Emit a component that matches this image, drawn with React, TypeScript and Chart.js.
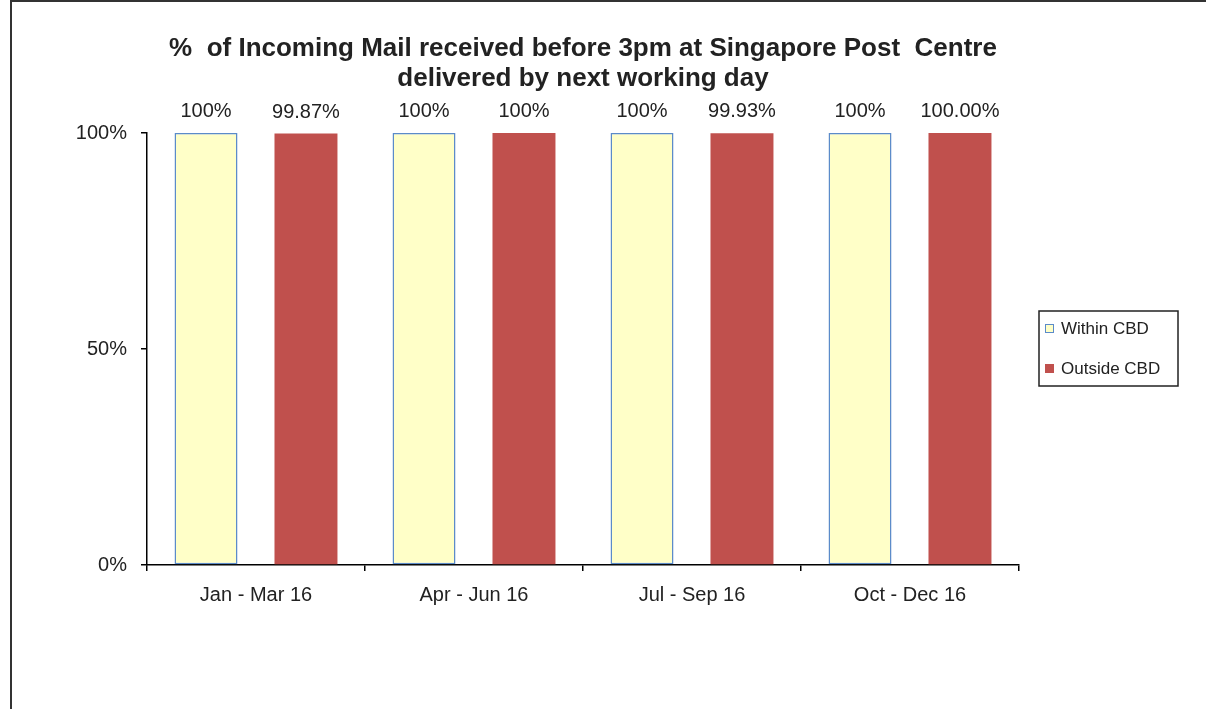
import React, { useEffect, useRef } from "react";
import { Chart, registerables } from "chart.js";

Chart.register(...registerables);

const titleLines = [
  "%  of Incoming Mail received before 3pm at Singapore Post  Centre",
  "delivered by next working day",
];
const categories = ["Jan - Mar 16", "Apr - Jun 16", "Jul - Sep 16", "Oct - Dec 16"];
const seriesNames = ["Within CBD", "Outside CBD"];
const withinValues = [100, 100, 100, 100];
const outsideValues = [99.87, 100, 99.93, 100];
const withinLabels = ["100%", "100%", "100%", "100%"];
const outsideLabels = ["99.87%", "100%", "99.93%", "100.00%"];
const yTicks = [0, 50, 100];

const FONT = "'Liberation Sans', Arial, sans-serif";
const TEXT = "#222";
const dataLabels = [withinLabels, outsideLabels];

const decorPlugin = {
  id: "decor",
  afterDraw(chart: any) {
    const ctx = chart.ctx;
    const area = chart.chartArea;
    ctx.save();
    // title
    ctx.fillStyle = TEXT;
    ctx.font = `bold 26px ${FONT}`;
    ctx.textAlign = "center";
    ctx.textBaseline = "alphabetic";
    const cx = (area.left + area.right) / 2;
    titleLines.forEach((line, i) => ctx.fillText(line, cx, 56 + i * 30));

    // value labels
    ctx.font = `20px ${FONT}`;
    chart.data.datasets.forEach((ds: any, i: number) => {
      const meta = chart.getDatasetMeta(i);
      meta.data.forEach((bar: any, j: number) => {
        ctx.fillText(dataLabels[i][j], bar.x, bar.y - 16);
      });
    });

    // legend
    const lx = area.right + 20;
    const ly = (area.top + area.bottom) / 2 - 38;
    const lw = 139;
    const lh = 75;
    ctx.strokeStyle = "#222";
    ctx.lineWidth = 1.5;
    ctx.strokeRect(lx, ly, lw, lh);
    ctx.font = `17px ${FONT}`;
    ctx.textAlign = "left";
    ctx.textBaseline = "middle";
    chart.data.datasets.forEach((ds: any, i: number) => {
      const y = ly + 18 + i * 40;
      ctx.fillStyle = ds.backgroundColor;
      ctx.fillRect(lx + 6, y - 5, 9, 9);
      if (ds.borderWidth) {
        ctx.strokeStyle = ds.borderColor;
        ctx.lineWidth = 1;
        ctx.strokeRect(lx + 6.5, y - 4.5, 8, 8);
      }
      ctx.fillStyle = TEXT;
      ctx.fillText(ds.label, lx + 22, y);
    });
    ctx.restore();
  },
};

export default function App() {
  const ref = useRef<HTMLCanvasElement>(null);

  useEffect(() => {
    if (!ref.current) return;
    const chart = new Chart(ref.current, {
      type: "bar",
      data: {
        labels: categories,
        datasets: [
          {
            label: seriesNames[0],
            data: withinValues,
            backgroundColor: "#FFFFC8",
            borderColor: "#5B8BC9",
            borderWidth: 1.5,
            borderSkipped: false,
          },
          {
            label: seriesNames[1],
            data: outsideValues,
            backgroundColor: "#C0504D",
            borderWidth: 0,
          },
        ],
      },
      options: {
        responsive: false,
        animation: false,
        categoryPercentage: 0.917,
        barPercentage: 0.63,
        layout: { padding: { left: 20, right: 187, top: 133, bottom: 0 } },
        plugins: {
          legend: { display: false },
          title: { display: false },
          tooltip: { enabled: false },
        },
        scales: {
          x: {
            afterFit: (s: any) => {
              s.height = 144;
            },
            grid: {
              drawOnChartArea: false,
              drawTicks: true,
              tickLength: 6,
              color: "#000",
              lineWidth: 1.5,
            },
            border: { display: true, color: "#000", width: 1.5 },
            ticks: {
              color: TEXT,
              font: { family: FONT, size: 20 },
              padding: 12,
              maxRotation: 0,
            },
          },
          y: {
            min: 0,
            max: 100,
            afterFit: (s: any) => {
              s.width = 127;
            },
            afterBuildTicks: (s: any) => {
              s.ticks = yTicks.map((v) => ({ value: v }));
            },
            grid: {
              drawOnChartArea: false,
              drawTicks: true,
              tickLength: 6,
              color: "#000",
              lineWidth: 1.5,
            },
            border: { display: true, color: "#000", width: 1.5 },
            ticks: {
              color: TEXT,
              font: { family: FONT, size: 20 },
              padding: 14,
              callback: (v: any) => `${v}%`,
            },
          },
        },
      },
      plugins: [decorPlugin],
    });
    return () => chart.destroy();
  }, []);

  return (
    <div
      style={{
        position: "fixed",
        left: 0,
        top: 0,
        width: 1206,
        height: 709,
        overflow: "hidden",
        background: "#fff",
      }}
    >
      <div
        style={{
          position: "absolute",
          left: 10,
          top: 0,
          width: 1400,
          height: 900,
          borderLeft: "2px solid #333",
          borderTop: "2px solid #333",
        }}
      />
      <canvas
        ref={ref}
        width={1206}
        height={709}
        style={{ position: "absolute", left: 0, top: 0 }}
      />
    </div>
  );
}
